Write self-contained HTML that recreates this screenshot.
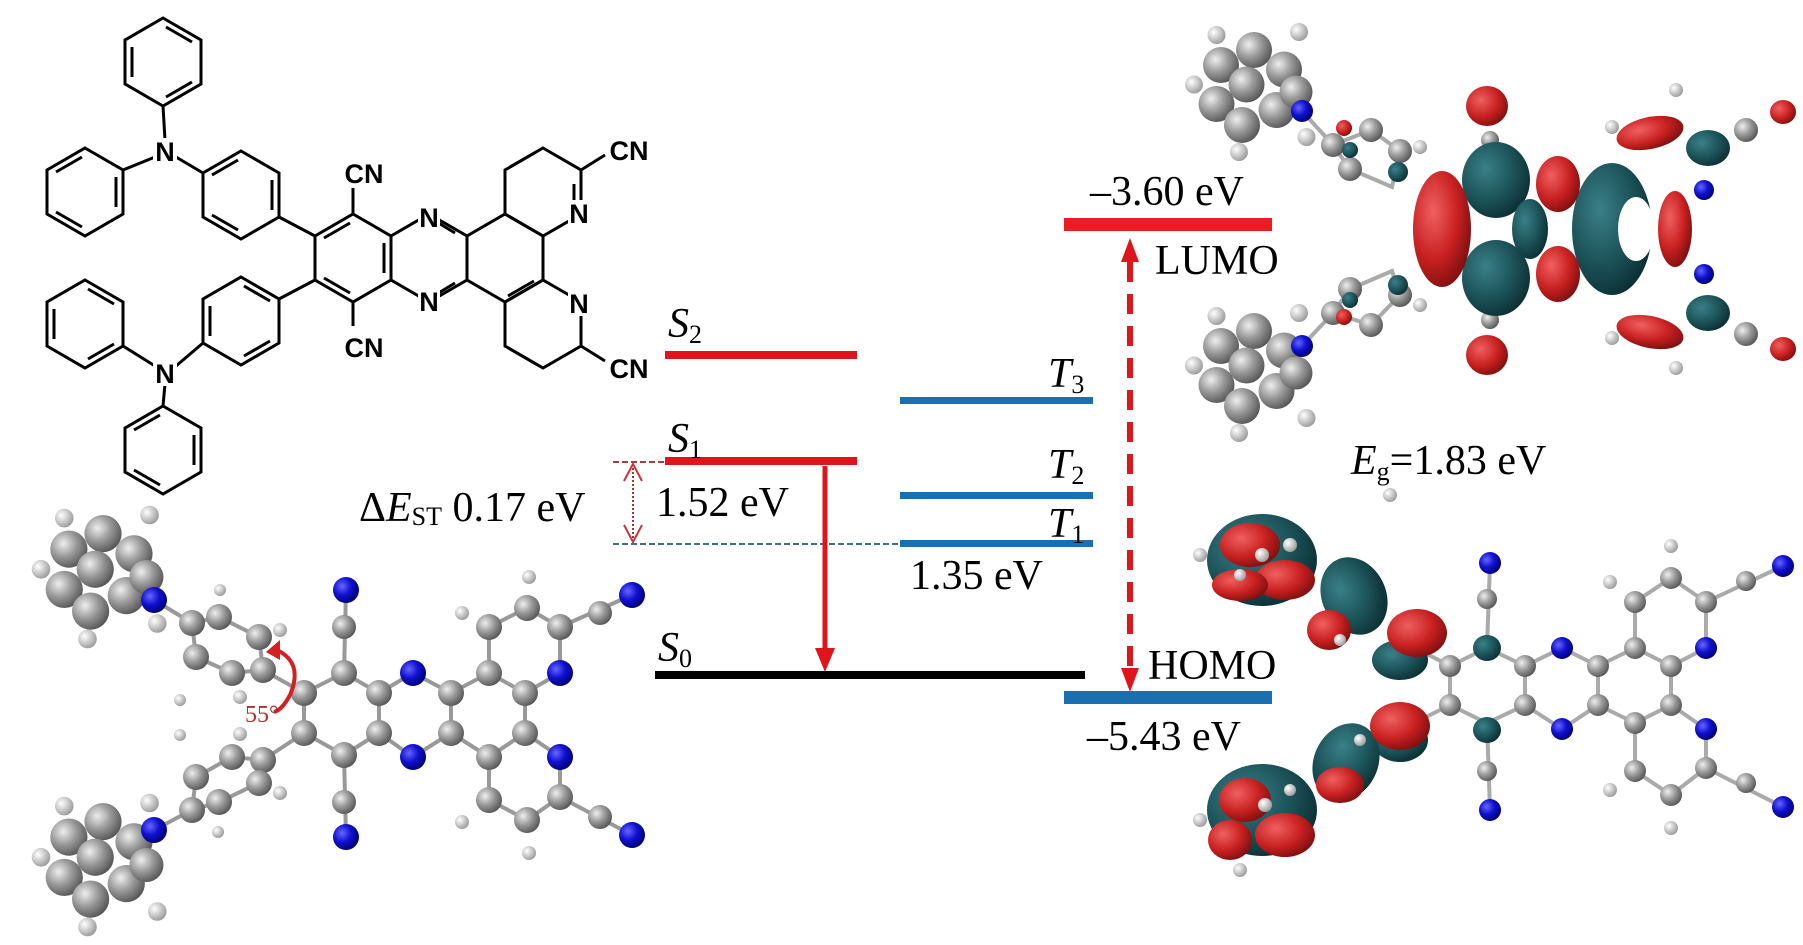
<!DOCTYPE html>
<html><head><meta charset="utf-8"><style>
html,body{margin:0;padding:0;background:#fff}
svg{display:block}
text{font-family:"Liberation Serif",serif}
.lb{font-size:42px;fill:#000}
.cn{font-family:"Liberation Sans",sans-serif;font-weight:bold;font-size:27px;fill:#000}
</style></head><body>
<svg width="1803" height="945" viewBox="0 0 1803 945" xmlns="http://www.w3.org/2000/svg">
<defs>
<radialGradient id="gc" cx="35%" cy="35%" r="70%"><stop offset="0" stop-color="#eee"/><stop offset=".5" stop-color="#9a9a9a"/><stop offset="1" stop-color="#555"/></radialGradient>
<radialGradient id="gn" cx="35%" cy="35%" r="70%"><stop offset="0" stop-color="#66f"/><stop offset=".5" stop-color="#1010d0"/><stop offset="1" stop-color="#000070"/></radialGradient>
<radialGradient id="gh" cx="35%" cy="35%" r="70%"><stop offset="0" stop-color="#fff"/><stop offset="1" stop-color="#999"/></radialGradient>
<radialGradient id="gr" cx="35%" cy="35%" r="70%"><stop offset="0" stop-color="#f06060"/><stop offset=".6" stop-color="#c82020"/><stop offset="1" stop-color="#801010"/></radialGradient>
<radialGradient id="gt" cx="35%" cy="35%" r="70%"><stop offset="0" stop-color="#3a8088"/><stop offset=".6" stop-color="#1b5258"/><stop offset="1" stop-color="#0c3034"/></radialGradient>
<polygon id="hx" points="0,-44 38,-22 38,22 0,44 -38,22 -38,-22" fill="none" stroke="#000" stroke-width="3"/>
<path id="ia" d="M3,-35 L29,-20 M29,20 L3,35 M-31,15 L-31,-15" stroke="#000" stroke-width="3" fill="none"/>
<path id="ib" d="M31,-15 L31,15 M-3,35 L-29,20 M-29,-20 L-3,-35" stroke="#000" stroke-width="3" fill="none"/>
<g id="cl">
<circle cx="-40" cy="-5" r="6" fill="url(#gh)"/><circle cx="30" cy="-40" r="6" fill="url(#gh)"/><circle cx="-10" cy="40" r="6" fill="url(#gh)"/><circle cx="35" cy="30" r="6" fill="url(#gh)"/><circle cx="-25" cy="-38" r="6" fill="url(#gh)"/>
<circle cx="-22" cy="-18" r="12" fill="url(#gc)"/><circle cx="0" cy="-28" r="12" fill="url(#gc)"/><circle cx="20" cy="-15" r="12" fill="url(#gc)"/><circle cx="-25" cy="8" r="12" fill="url(#gc)"/><circle cx="-8" cy="22" r="12" fill="url(#gc)"/><circle cx="15" cy="12" r="12" fill="url(#gc)"/><circle cx="-5" cy="-5" r="12" fill="url(#gc)"/><circle cx="28" cy="0" r="11" fill="url(#gc)"/>
</g>
</defs>

<!-- Chemical structure top-left -->
<g stroke="#000" stroke-width="3" fill="none">
<use href="#hx" x="163" y="62"/><use href="#hx" x="85" y="192"/><use href="#hx" x="241" y="195"/>
<use href="#hx" x="85" y="324"/><use href="#hx" x="241" y="321"/><use href="#hx" x="163" y="450"/>
<use href="#hx" x="353" y="258"/><use href="#hx" x="429" y="258"/><use href="#hx" x="505" y="258"/>
<use href="#hx" x="543" y="192"/><use href="#hx" x="543" y="324"/>
<line x1="163" y1="106" x2="165" y2="140"/><line x1="155" y1="157" x2="123" y2="170"/><line x1="176" y1="157" x2="203" y2="173"/>
<line x1="163" y1="406" x2="165" y2="384"/><line x1="155" y1="366" x2="123" y2="346"/><line x1="176" y1="366" x2="203" y2="343"/>
<line x1="279" y1="217" x2="315" y2="236"/><line x1="279" y1="299" x2="315" y2="280"/>
<line x1="353" y1="214" x2="353" y2="188"/><line x1="353" y1="302" x2="353" y2="326"/>
<line x1="581" y1="170" x2="605" y2="155"/><line x1="581" y1="346" x2="605" y2="361"/>
</g>
<use href="#ia" x="163" y="62"/><use href="#ib" x="85" y="192"/><use href="#ib" x="241" y="195"/>
<use href="#ia" x="85" y="324"/><use href="#ia" x="241" y="321"/><use href="#ib" x="163" y="450"/>
<use href="#ib" x="353" y="258"/>
<path d="M432,219 L455,233 M432,297 L455,283 M536,152 L510,167 M536,364 L510,349 M574,184 L574,210 M508,296 L534,281" stroke="#000" stroke-width="3" fill="none"/>
<g fill="#fff"><rect x="153" y="138" width="24" height="26"/><rect x="153" y="360" width="24" height="26"/><rect x="418" y="204" width="22" height="26"/><rect x="418" y="288" width="22" height="26"/><rect x="568" y="200" width="22" height="26"/><rect x="568" y="290" width="22" height="26"/></g>
<g class="cn" text-anchor="middle">
<text x="165" y="161" class="cn">N</text><text x="165" y="383" class="cn">N</text>
<text x="429" y="227" class="cn">N</text><text x="429" y="311" class="cn">N</text>
<text x="579" y="223" class="cn">N</text><text x="579" y="313" class="cn">N</text>
<text x="364" y="183" class="cn">CN</text><text x="364" y="357" class="cn">CN</text>
<text x="629" y="160" class="cn">CN</text><text x="629" y="378" class="cn">CN</text>
</g>

<!-- Bottom-left ball and stick -->
<g stroke="#999" stroke-width="4" fill="none">
<polyline points="304,693 344,673 379,693 379,733 344,755 304,733 304,693"/>
<polyline points="379,693 413,673 451,693 451,733 413,757 379,733"/>
<polyline points="451,693 489,673 525,693 525,733 489,757 451,733"/>
<polyline points="525,693 560,673 560,627 527,608 489,627 489,673"/>
<polyline points="525,733 560,757 560,797 527,820 489,800 489,757"/>
<line x1="560" y1="627" x2="632" y2="595"/><line x1="560" y1="797" x2="632" y2="835"/>
<line x1="344" y1="673" x2="346" y2="590"/><line x1="344" y1="755" x2="346" y2="837"/>
<polyline points="304,693 263,670 232,673 196,657 192,623 219,617 259,637 263,670"/><line x1="192" y1="623" x2="154" y2="600"/>
<polyline points="304,733 263,760 232,757 196,777 192,810 219,802 259,783 263,760"/><line x1="192" y1="810" x2="154" y2="830"/>
</g>
<use href="#cl" transform="translate(103,577) scale(1.55)"/><use href="#cl" transform="translate(103,865) scale(1.55)"/>
<g fill="url(#gh)">
<circle cx="529" cy="577" r="7"/><circle cx="462" cy="613" r="7"/><circle cx="462" cy="822" r="7"/><circle cx="529" cy="853" r="7"/>
<circle cx="280" cy="630" r="7"/><circle cx="240" cy="697" r="7"/><circle cx="240" cy="734" r="7"/><circle cx="280" cy="793" r="7"/>
<circle cx="180" cy="700" r="6"/><circle cx="220" cy="590" r="6"/><circle cx="180" cy="735" r="6"/><circle cx="218" cy="832" r="6"/>
</g>
<g fill="url(#gc)">
<circle cx="304" cy="693" r="13"/><circle cx="344" cy="673" r="13"/><circle cx="379" cy="693" r="13"/><circle cx="379" cy="733" r="13"/><circle cx="344" cy="755" r="13"/><circle cx="304" cy="733" r="13"/>
<circle cx="451" cy="693" r="13"/><circle cx="451" cy="733" r="13"/><circle cx="489" cy="673" r="13"/><circle cx="489" cy="757" r="13"/><circle cx="525" cy="693" r="13"/><circle cx="525" cy="733" r="13"/>
<circle cx="560" cy="627" r="13"/><circle cx="527" cy="608" r="13"/><circle cx="489" cy="627" r="13"/><circle cx="560" cy="797" r="13"/><circle cx="527" cy="820" r="13"/><circle cx="489" cy="800" r="13"/>
<circle cx="600" cy="613" r="12"/><circle cx="600" cy="817" r="12"/><circle cx="344" cy="627" r="12"/><circle cx="344" cy="802" r="12"/>
<circle cx="263" cy="670" r="13"/><circle cx="232" cy="673" r="13"/><circle cx="196" cy="657" r="13"/><circle cx="192" cy="623" r="13"/><circle cx="219" cy="617" r="13"/><circle cx="259" cy="637" r="13"/>
<circle cx="263" cy="760" r="13"/><circle cx="232" cy="757" r="13"/><circle cx="196" cy="777" r="13"/><circle cx="192" cy="810" r="13"/><circle cx="219" cy="802" r="13"/><circle cx="259" cy="783" r="13"/>
</g>
<g fill="url(#gn)">
<circle cx="413" cy="673" r="13"/><circle cx="413" cy="757" r="13"/><circle cx="560" cy="673" r="13"/><circle cx="560" cy="757" r="13"/>
<circle cx="632" cy="595" r="13"/><circle cx="632" cy="835" r="13"/><circle cx="346" cy="590" r="13"/><circle cx="346" cy="837" r="13"/>
<circle cx="154" cy="600" r="13"/><circle cx="154" cy="830" r="13"/>
</g>
<path d="M272,648 Q305,660 290,695 Q282,710 274,712" stroke="#d42020" stroke-width="4" fill="none"/>
<polygon points="266,652 280,640 280,660" fill="#d42020"/>
<text x="245" y="722" style="font-size:24px;fill:#b03030">55°</text>

<!-- Energy diagram -->
<rect x="665" y="351" width="192" height="8" fill="#e0151b"/>
<rect x="665" y="457" width="192" height="8" fill="#e0151b"/>
<rect x="900" y="397" width="193" height="7" fill="#1a6fb0"/>
<rect x="900" y="492" width="193" height="7" fill="#1a6fb0"/>
<rect x="900" y="540" width="193" height="7" fill="#1a6fb0"/>
<rect x="655" y="671" width="430" height="8" fill="#000"/>
<rect x="1064" y="218" width="208" height="13" fill="#ec1c24"/>
<rect x="1064" y="691" width="208" height="13" fill="#1a6fb0"/>
<line x1="613" y1="462" x2="665" y2="462" stroke="#a04040" stroke-width="2" stroke-dasharray="6 3"/>
<line x1="613" y1="544" x2="900" y2="544" stroke="#3a7080" stroke-width="2" stroke-dasharray="6 3"/>
<line x1="633" y1="468" x2="633" y2="538" stroke="#904030" stroke-width="2" stroke-dasharray="2 2"/>
<polyline points="624,481 633,464 642,481" stroke="#d03040" stroke-width="2" fill="none"/>
<polyline points="624,525 633,542 642,525" stroke="#d03040" stroke-width="2" fill="none"/>
<line x1="825" y1="466" x2="825" y2="650" stroke="#e0151b" stroke-width="5"/>
<polygon points="815,648 835,648 825,672" fill="#e0151b"/>
<line x1="1130" y1="262" x2="1130" y2="668" stroke="#e0151b" stroke-width="6" stroke-dasharray="20 12"/>
<polygon points="1121,262 1139,262 1130,238" fill="#e0151b"/>
<polygon points="1121,668 1139,668 1130,692" fill="#e0151b"/>

<g class="lb">
<text x="668" y="337" font-style="italic">S<tspan font-size="26" dy="6" font-style="normal">2</tspan></text>
<text x="668" y="452" font-style="italic">S<tspan font-size="26" dy="6" font-style="normal">1</tspan></text>
<text x="658" y="661" font-style="italic">S<tspan font-size="26" dy="6" font-style="normal">0</tspan></text>
<text x="1048" y="387" font-style="italic">T<tspan font-size="26" dy="6" font-style="normal">3</tspan></text>
<text x="1048" y="478" font-style="italic">T<tspan font-size="26" dy="6" font-style="normal">2</tspan></text>
<text x="1048" y="537" font-style="italic">T<tspan font-size="26" dy="6" font-style="normal">1</tspan></text>
<text x="656" y="516">1.52 eV</text>
<text x="910" y="589">1.35 eV</text>
<text x="1090" y="205">–3.60 eV</text>
<text x="1155" y="274">LUMO</text>
<text x="1148" y="679">HOMO</text>
<text x="1087" y="750">–5.43 eV</text>
<text x="1351" y="474"><tspan font-style="italic">E</tspan><tspan font-size="26" dy="6">g</tspan><tspan dy="-6">=1.83 eV</tspan></text>
<text x="359" y="521">Δ<tspan font-style="italic">E</tspan><tspan font-size="26" dy="4">ST</tspan><tspan dy="-4"> 0.17 eV</tspan></text>
</g>

<!-- LUMO molecule (right top) -->
<use href="#cl" transform="translate(1254,92) scale(1.5)"/><use href="#cl" transform="translate(1254,373) scale(1.5)"/>
<g stroke="#aaa" stroke-width="4"><polyline points="1302,111 1333,145 1371,130 1400,151 1392,187 1350,169 1333,145" fill="none"/><polyline points="1302,346 1333,313 1371,325 1400,295 1392,271 1350,289 1333,313" fill="none"/></g>
<g fill="url(#gc)"><circle cx="1333" cy="145" r="12"/><circle cx="1371" cy="130" r="12"/><circle cx="1400" cy="151" r="12"/><circle cx="1350" cy="169" r="12"/><circle cx="1333" cy="313" r="12"/><circle cx="1371" cy="325" r="12"/><circle cx="1400" cy="295" r="12"/><circle cx="1350" cy="289" r="12"/><circle cx="1746" cy="130" r="12"/><circle cx="1746" cy="334" r="12"/><circle cx="1490" cy="140" r="9"/><circle cx="1490" cy="320" r="9"/></g>
<g fill="url(#gh)"><circle cx="1676" cy="90" r="7"/><circle cx="1676" cy="368" r="7"/><circle cx="1612" cy="127" r="7"/><circle cx="1612" cy="338" r="7"/><circle cx="1420" cy="147" r="7"/><circle cx="1420" cy="305" r="7"/></g>
<g fill="url(#gn)"><circle cx="1302" cy="111" r="11"/><circle cx="1302" cy="346" r="11"/><circle cx="1704" cy="190" r="10"/><circle cx="1704" cy="274" r="10"/></g>
<g fill="url(#gt)">
<circle cx="1398" cy="172" r="10"/><circle cx="1398" cy="285" r="10"/><circle cx="1350" cy="150" r="8"/><circle cx="1350" cy="300" r="8"/>
<ellipse cx="1496" cy="180" rx="34" ry="38"/><ellipse cx="1496" cy="278" rx="34" ry="38"/><ellipse cx="1530" cy="229" rx="18" ry="30"/>
<ellipse cx="1612" cy="229" rx="40" ry="66"/><ellipse cx="1708" cy="148" rx="22" ry="18"/><ellipse cx="1708" cy="313" rx="22" ry="18"/>
</g>
<ellipse cx="1636" cy="229" rx="18" ry="32" fill="#fff"/>
<g fill="url(#gr)">
<ellipse cx="1442" cy="229" rx="29" ry="58"/><ellipse cx="1487" cy="106" rx="21" ry="20"/><ellipse cx="1487" cy="355" rx="21" ry="20"/>
<ellipse cx="1558" cy="184" rx="22" ry="28"/><ellipse cx="1558" cy="274" rx="22" ry="28"/>
<ellipse cx="1675" cy="229" rx="17" ry="38"/><ellipse cx="1650" cy="133" rx="34" ry="16" transform="rotate(-12 1650 133)"/><ellipse cx="1650" cy="332" rx="34" ry="16" transform="rotate(12 1650 332)"/>
<ellipse cx="1783" cy="112" rx="13" ry="12"/><ellipse cx="1783" cy="349" rx="13" ry="12"/><circle cx="1344" cy="128" r="8"/><circle cx="1344" cy="317" r="8"/>
</g>

<!-- HOMO molecule (right bottom) -->
<g stroke="#aaa" stroke-width="4" fill="none">
<polyline points="1450,666 1487,648 1525,666 1525,705 1487,723 1450,705 1450,666"/>
<polyline points="1525,666 1562,648 1598,666 1598,705 1562,729 1525,705"/>
<polyline points="1598,666 1635,648 1671,666 1671,705 1635,723 1598,705"/>
<polyline points="1671,666 1706,648 1706,602 1671,578 1635,602 1635,648"/>
<polyline points="1671,705 1706,729 1706,768 1671,795 1635,771 1635,723"/>
<line x1="1706" y1="602" x2="1783" y2="566"/><line x1="1706" y1="768" x2="1783" y2="807"/>
<line x1="1487" y1="648" x2="1490" y2="563"/><line x1="1487" y1="723" x2="1490" y2="810"/>
<line x1="1450" y1="666" x2="1400" y2="640"/><line x1="1450" y1="705" x2="1400" y2="730"/>
</g>
<g fill="url(#gc)">
<circle cx="1450" cy="666" r="11"/><circle cx="1525" cy="666" r="11"/><circle cx="1525" cy="705" r="11"/><circle cx="1450" cy="705" r="11"/>
<circle cx="1598" cy="666" r="11"/><circle cx="1598" cy="705" r="11"/><circle cx="1635" cy="648" r="11"/><circle cx="1635" cy="723" r="11"/><circle cx="1671" cy="666" r="11"/><circle cx="1671" cy="705" r="11"/>
<circle cx="1706" cy="602" r="11"/><circle cx="1671" cy="578" r="11"/><circle cx="1635" cy="602" r="11"/><circle cx="1706" cy="768" r="11"/><circle cx="1671" cy="795" r="11"/><circle cx="1635" cy="771" r="11"/>
<circle cx="1746" cy="581" r="10"/><circle cx="1746" cy="783" r="10"/><circle cx="1487" cy="599" r="10"/><circle cx="1487" cy="771" r="10"/>
</g>
<g fill="url(#gh)"><circle cx="1671" cy="546" r="7"/><circle cx="1610" cy="582" r="7"/><circle cx="1610" cy="790" r="7"/><circle cx="1671" cy="828" r="7"/><circle cx="1390" cy="495" r="7"/><circle cx="1200" cy="555" r="7"/><circle cx="1200" cy="820" r="7"/><circle cx="1240" cy="870" r="7"/></g>
<g fill="url(#gn)"><circle cx="1562" cy="648" r="11"/><circle cx="1562" cy="729" r="11"/><circle cx="1706" cy="648" r="11"/><circle cx="1706" cy="729" r="11"/><circle cx="1783" cy="566" r="11"/><circle cx="1783" cy="807" r="11"/><circle cx="1490" cy="563" r="11"/><circle cx="1490" cy="810" r="11"/></g>
<g fill="url(#gt)">
<ellipse cx="1487" cy="648" rx="14" ry="13"/><ellipse cx="1487" cy="730" rx="14" ry="13"/>
<ellipse cx="1262" cy="560" rx="55" ry="46"/><ellipse cx="1354" cy="596" rx="32" ry="40" transform="rotate(-25 1354 596)"/>
<ellipse cx="1400" cy="660" rx="28" ry="20"/><ellipse cx="1400" cy="740" rx="28" ry="22"/>
<ellipse cx="1346" cy="762" rx="32" ry="40" transform="rotate(25 1346 762)"/><ellipse cx="1262" cy="810" rx="55" ry="46"/>
</g>
<g fill="url(#gr)">
<ellipse cx="1250" cy="545" rx="30" ry="22"/><ellipse cx="1285" cy="580" rx="30" ry="20"/><ellipse cx="1240" cy="585" rx="28" ry="16"/>
<ellipse cx="1417" cy="633" rx="30" ry="24"/><ellipse cx="1329" cy="630" rx="22" ry="20"/>
<ellipse cx="1400" cy="726" rx="30" ry="24"/><ellipse cx="1340" cy="785" rx="24" ry="18"/>
<ellipse cx="1245" cy="800" rx="26" ry="22"/><ellipse cx="1285" cy="835" rx="30" ry="22"/><ellipse cx="1230" cy="840" rx="22" ry="20"/>
</g>
<g fill="url(#gh)"><circle cx="1262" cy="555" r="7"/><circle cx="1290" cy="545" r="7"/><circle cx="1240" cy="575" r="6"/><circle cx="1265" cy="805" r="7"/><circle cx="1290" cy="790" r="6"/><circle cx="1340" cy="640" r="6"/><circle cx="1360" cy="740" r="6"/></g>
</svg>
</body></html>
